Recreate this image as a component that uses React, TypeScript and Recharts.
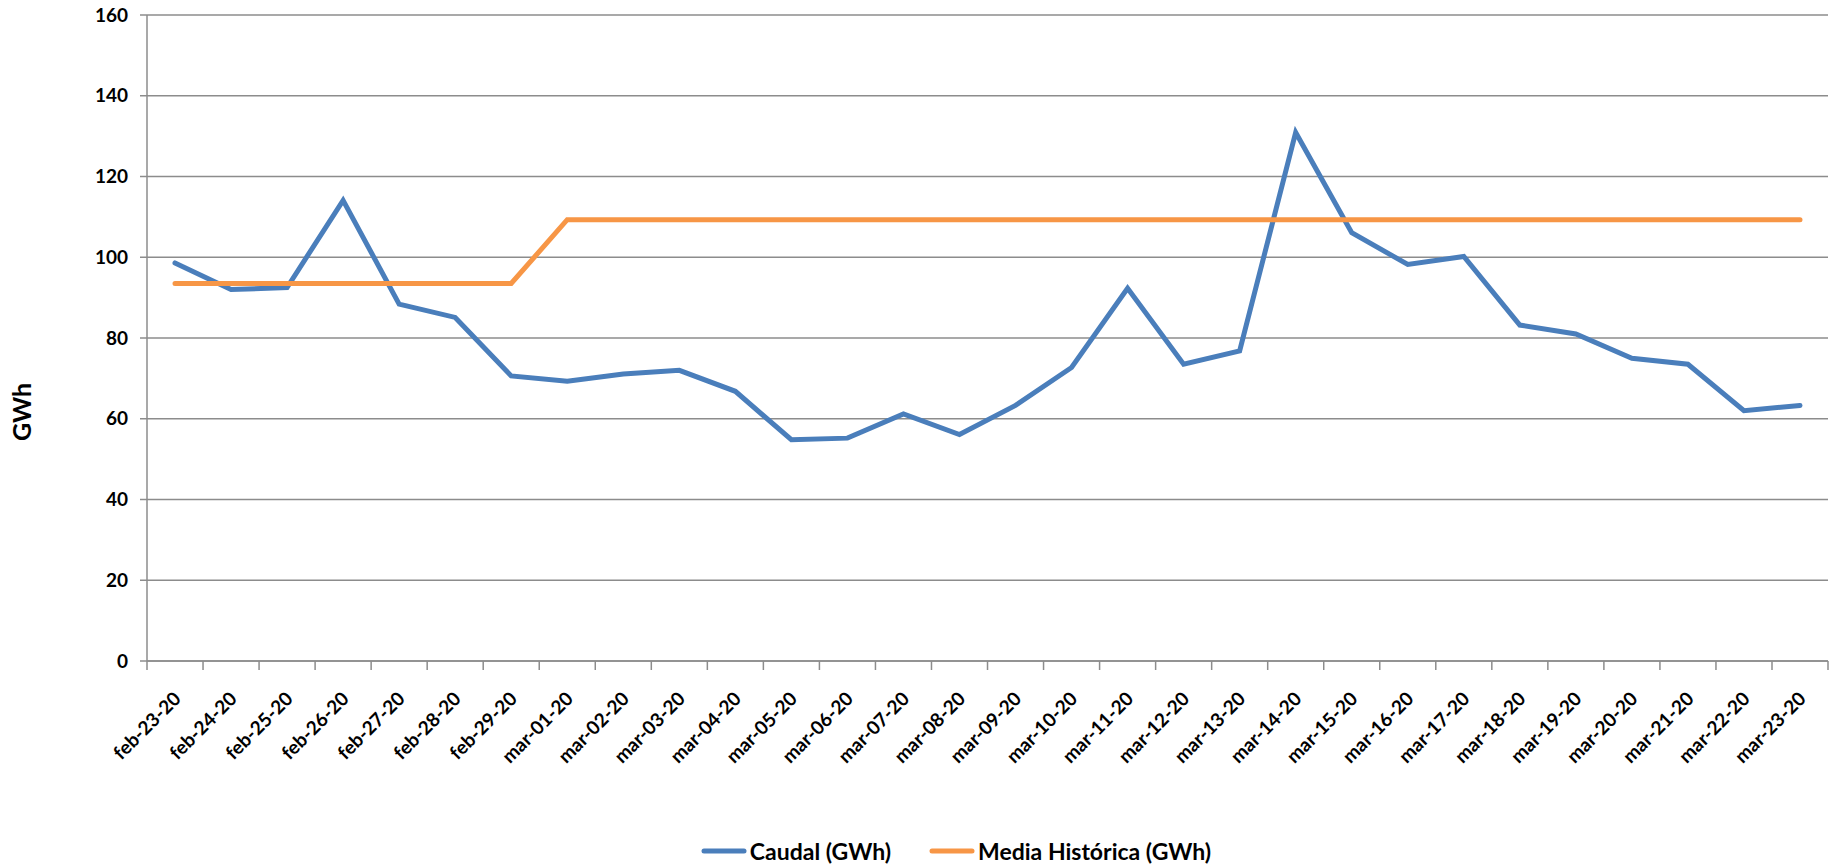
import { LineChart, Line, XAxis, YAxis, CartesianGrid, Legend } from 'recharts'

const categories = [
    'feb-23-20', 'feb-24-20', 'feb-25-20', 'feb-26-20', 'feb-27-20', 'feb-28-20', 'feb-29-20',
    'mar-01-20', 'mar-02-20', 'mar-03-20', 'mar-04-20', 'mar-05-20', 'mar-06-20', 'mar-07-20',
    'mar-08-20', 'mar-09-20', 'mar-10-20', 'mar-11-20', 'mar-12-20', 'mar-13-20', 'mar-14-20',
    'mar-15-20', 'mar-16-20', 'mar-17-20', 'mar-18-20', 'mar-19-20', 'mar-20-20', 'mar-21-20',
    'mar-22-20', 'mar-23-20',
]

// Caudal (GWh)
const caudal = [
    98.6, 92.0, 92.5, 114.1, 88.4, 85.1, 70.6,
    69.3, 71.1, 72.0, 66.8, 54.8, 55.2, 61.2,
    56.1, 63.3, 72.7, 92.3, 73.5, 76.8, 130.9,
    106.1, 98.2, 100.2, 83.2, 81.0, 75.0, 73.5,
    62.0, 63.3,
]

// Media Histórica (GWh)
const mediaHistorica = [
    93.5, 93.5, 93.5, 93.5, 93.5, 93.5, 93.5,
    109.3, 109.3, 109.3, 109.3, 109.3, 109.3, 109.3,
    109.3, 109.3, 109.3, 109.3, 109.3, 109.3, 109.3,
    109.3, 109.3, 109.3, 109.3, 109.3, 109.3, 109.3,
    109.3, 109.3,
]

const yTicks = [0, 20, 40, 60, 80, 100, 120, 140, 160]

const BLUE = '#4a7ebb'
const ORANGE = '#f79646'
const GRID = '#8c8c8c'
const FONT = 'Lato, "Open Sans", sans-serif'
const HALF_BAND = 28 // categories sit between tick marks, like excel

const data = categories.map((name, i) => ({
    name,
    caudal: caudal[i],
    media: mediaHistorica[i],
}))

function XTick(props: any) {
    const { x, y, payload, index } = props
    const last = index === categories.length - 1
    return (
        <g>
            <line x1={x - HALF_BAND} x2={x - HALF_BAND} y1={y} y2={y + 9} stroke={GRID} strokeWidth={1.5} />
            {last && <line x1={x + HALF_BAND} x2={x + HALF_BAND} y1={y} y2={y + 9} stroke={GRID} strokeWidth={1.5} />}
            <text
                x={0}
                y={0}
                transform={`translate(${x + 7},${y + 39}) rotate(-45)`}
                textAnchor="end"
                fontFamily={FONT}
                fontWeight={700}
                fontSize={19}
                fill="#000"
            >
                {payload.value}
            </text>
        </g>
    )
}

function LegendContent() {
    const items = [
        { label: 'Caudal (GWh)', color: BLUE },
        { label: 'Media Histórica (GWh)', color: ORANGE },
    ]
    return (
        <div
            style={{
                height: 40,
                boxSizing: 'border-box',
                paddingTop: 10,
                paddingLeft: 84,
                display: 'flex',
                justifyContent: 'center',
                alignItems: 'center',
                gap: 38,
                fontFamily: FONT,
            }}
        >
            {items.map(it => (
                <div key={it.label} style={{ display: 'flex', alignItems: 'center' }}>
                    <svg width={46} height={10} style={{ marginRight: 3 }}>
                        <line x1={3} x2={43} y1={5} y2={5} stroke={it.color} strokeWidth={5} strokeLinecap="round" />
                    </svg>
                    <span style={{ fontSize: 23, fontWeight: 700, color: '#000' }}>{it.label}</span>
                </div>
            ))}
        </div>
    )
}

export default function App() {
    return (
        <div style={{ width: 1837, height: 866, background: '#fff' }}>
            <style>{'body{margin:0}'}</style>
            <LineChart
                width={1837}
                height={866}
                data={data}
                margin={{ top: 15, right: 9, left: 0, bottom: 0 }}
            >
                <CartesianGrid vertical={false} stroke={GRID} strokeWidth={1.5} />
                <XAxis
                    dataKey="name"
                    height={165}
                    interval={0}
                    padding={{ left: HALF_BAND, right: HALF_BAND }}
                    tickLine={false}
                    tickSize={0}
                    tickMargin={0}
                    axisLine={{ stroke: GRID, strokeWidth: 1.5 }}
                    tick={<XTick />}
                />
                <YAxis
                    width={147}
                    domain={[0, 160]}
                    ticks={yTicks}
                    interval={0}
                    tickSize={7}
                    tickMargin={12}
                    tickLine={{ stroke: GRID, strokeWidth: 1.5 }}
                    axisLine={{ stroke: GRID, strokeWidth: 1.5 }}
                    tick={{ fill: '#000', fontSize: 19, fontWeight: 700, fontFamily: FONT }}
                    label={{
                        content: ({ viewBox }: any) => (
                            <text
                                x={0}
                                y={0}
                                transform={`translate(${viewBox.x + 31},${viewBox.y + viewBox.height / 2 + 74}) rotate(-90)`}
                                textAnchor="middle"
                                fontFamily={FONT}
                                fontWeight={700}
                                fontSize={25}
                                fill="#000"
                            >
                                GWh
                            </text>
                        ),
                    }}
                />
                <Legend verticalAlign="bottom" height={40} content={<LegendContent />} />
                <Line
                    type="linear"
                    dataKey="caudal"
                    name="Caudal (GWh)"
                    stroke={BLUE}
                    strokeWidth={5}
                    strokeLinecap="round"
                    dot={false}
                    activeDot={false}
                    isAnimationActive={false}
                />
                <Line
                    type="linear"
                    dataKey="media"
                    name="Media Histórica (GWh)"
                    stroke={ORANGE}
                    strokeWidth={5}
                    strokeLinecap="round"
                    dot={false}
                    activeDot={false}
                    isAnimationActive={false}
                />
            </LineChart>
        </div>
    )
}
